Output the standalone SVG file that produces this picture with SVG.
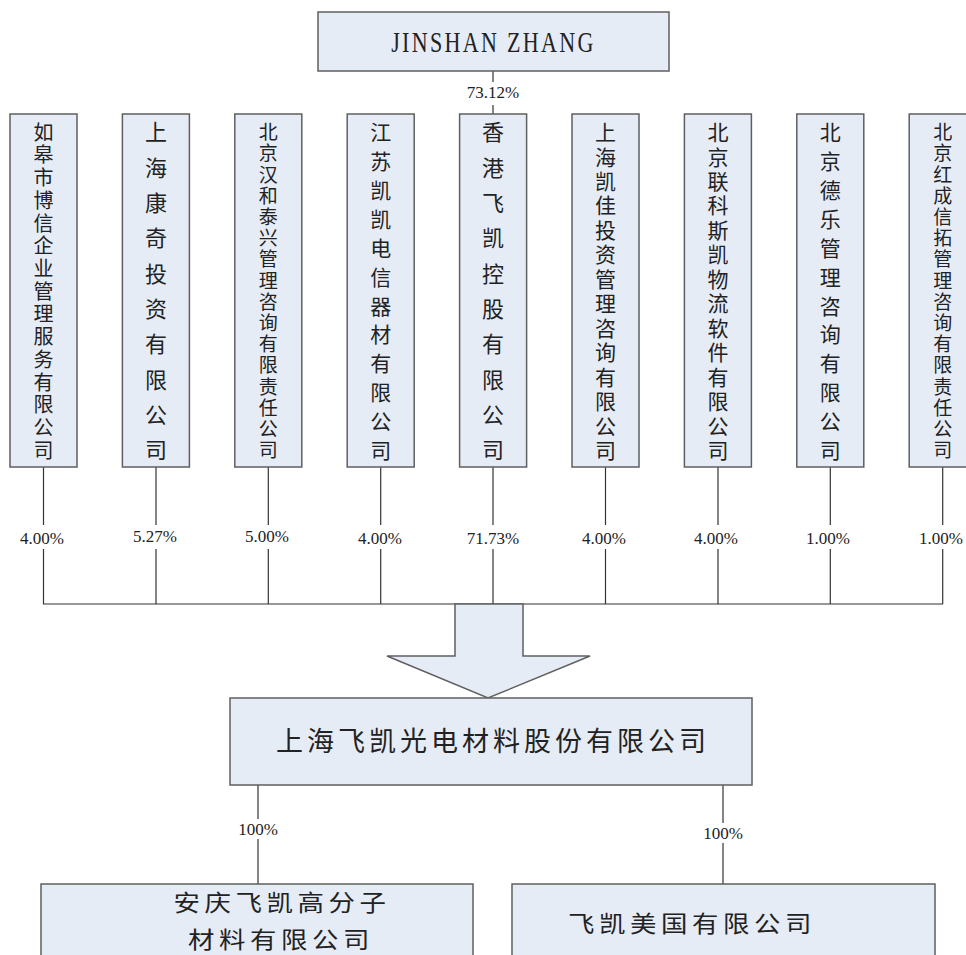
<svg xmlns="http://www.w3.org/2000/svg" width="966" height="955" viewBox="0 0 966 955">
<style>
.box{fill:#E6ECF6;stroke:#5f5f5f;stroke-width:1.5}
.ln{stroke:#333;stroke-width:1.2;fill:none}
.cjk{font-family:"Noto Sans CJK SC","Noto Sans CJK TC",sans-serif;fill:#222;text-anchor:middle}
.pct{font-family:"Liberation Serif",serif;font-size:17px;fill:#222;text-anchor:middle}
.bg{fill:#fff}
</style>
<rect width="966" height="955" fill="#fff"/>
<g id="connectors">
  <line class="ln" x1="493" y1="71" x2="493" y2="114"/>
  <line class="ln" x1="43.5" y1="467" x2="43.5" y2="604"/>
  <line class="ln" x1="156" y1="467" x2="156" y2="604"/>
  <line class="ln" x1="268.3" y1="467" x2="268.3" y2="604"/>
  <line class="ln" x1="380.7" y1="467" x2="380.7" y2="604"/>
  <line class="ln" x1="493" y1="467" x2="493" y2="604"/>
  <line class="ln" x1="605.5" y1="467" x2="605.5" y2="604"/>
  <line class="ln" x1="718" y1="467" x2="718" y2="604"/>
  <line class="ln" x1="830.3" y1="467" x2="830.3" y2="604"/>
  <line class="ln" x1="942.7" y1="467" x2="942.7" y2="604"/>
  <line class="ln" x1="43" y1="604" x2="943" y2="604"/>
  <line class="ln" x1="258" y1="785" x2="258" y2="884"/>
  <line class="ln" x1="723" y1="785" x2="723" y2="884"/>
  <polygon id="arrow" class="box" points="455,604 523,604 523,656 590,656 488,698 387,656 455,656"/>
</g>
<g id="labels">
  <rect class="bg" x="470" y="82" width="46" height="23"/><text class="pct" x="493" y="98">73.12%</text>
  <rect class="bg" x="18" y="525" width="50" height="24"/><text class="pct" x="42" y="544">4.00%</text>
  <rect class="bg" x="130" y="525" width="50" height="24"/><text class="pct" x="155" y="542">5.27%</text>
  <rect class="bg" x="243" y="525" width="50" height="24"/><text class="pct" x="267" y="542">5.00%</text>
  <rect class="bg" x="355" y="525" width="50" height="24"/><text class="pct" x="380" y="544">4.00%</text>
  <rect class="bg" x="465" y="525" width="56" height="24"/><text class="pct" x="493" y="544">71.73%</text>
  <rect class="bg" x="580" y="525" width="50" height="24"/><text class="pct" x="604" y="544">4.00%</text>
  <rect class="bg" x="692" y="525" width="50" height="24"/><text class="pct" x="716" y="544">4.00%</text>
  <rect class="bg" x="804" y="525" width="50" height="24"/><text class="pct" x="828" y="544">1.00%</text>
  <rect class="bg" x="916" y="525" width="50" height="24"/><text class="pct" x="941" y="544">1.00%</text>
  <rect class="bg" x="236" y="819" width="44" height="20"/><text class="pct" x="258" y="835">100%</text>
  <rect class="bg" x="701" y="823" width="44" height="20"/><text class="pct" x="723" y="839">100%</text>
</g>
<g id="jinshan">
  <rect class="box" x="318" y="12" width="351" height="59"/>
  <text transform="translate(493.5,52) scale(0.92,1.25)" x="0" y="0" font-family="Liberation Serif, serif" font-size="24" fill="#222" text-anchor="middle" letter-spacing="2.5">JINSHAN ZHANG</text>
</g>
<g id="n1">
  <rect class="box" x="10" y="114" width="67" height="353"/>
  <text class="cjk" font-size="20" x="43.5 43.5 43.5 43.5 43.5 43.5 43.5 43.5 43.5 43.5 43.5 43.5 43.5 43.5 43.5" y="139.6 162.3 185 207.7 230.5 253.2 275.9 298.6 321.3 344 366.7 389.5 412.2 434.9 457.6">如皋市博信企业管理服务有限公司</text>
</g>
<g id="n2">
  <rect class="box" x="122.4" y="114" width="67" height="353"/>
  <text class="cjk" font-size="22" x="156 156 156 156 156 156 156 156 156 156" y="140.4 175.7 211.1 246.4 281.7 317.1 352.4 387.7 423.1 458.4">上海康奇投资有限公司</text>
</g>
<g id="n3">
  <rect class="box" x="234.8" y="114" width="67" height="353"/>
  <text class="cjk" font-size="19" x="268.3 268.3 268.3 268.3 268.3 268.3 268.3 268.3 268.3 268.3 268.3 268.3 268.3 268.3 268.3 268.3" y="139.2 160.4 181.6 202.8 224 245.2 266.4 287.6 308.8 330 351.2 372.4 393.6 414.8 436 457.2">北京汉和泰兴管理咨询有限责任公司</text>
</g>
<g id="n4">
  <rect class="box" x="347.2" y="114" width="67" height="353"/>
  <text class="cjk" font-size="21" x="380.7 380.7 380.7 380.7 380.7 380.7 380.7 380.7 380.7 380.7 380.7 380.7" y="140 168.9 197.8 226.7 255.6 284.5 313.5 342.4 371.3 400.2 429.1 458">江苏凯凯电信器材有限公司</text>
</g>
<g id="n5">
  <rect class="box" x="459.6" y="114" width="67" height="353"/>
  <text class="cjk" font-size="22" x="493 493 493 493 493 493 493 493 493 493" y="140.4 175.7 211.1 246.4 281.7 317.1 352.4 387.7 423.1 458.4">香港飞凯控股有限公司</text>
</g>
<g id="n6">
  <rect class="box" x="572" y="114" width="67" height="353"/>
  <text class="cjk" font-size="21" x="605.5 605.5 605.5 605.5 605.5 605.5 605.5 605.5 605.5 605.5 605.5 605.5 605.5 605.5" y="140 164.5 188.9 213.4 237.8 262.3 286.8 311.2 335.7 360.2 384.6 409.1 433.5 458">上海凯佳投资管理咨询有限公司</text>
</g>
<g id="n7">
  <rect class="box" x="684.4" y="114" width="67" height="353"/>
  <text class="cjk" font-size="21" x="718 718 718 718 718 718 718 718 718 718 718 718 718 718" y="140 164.5 188.9 213.4 237.8 262.3 286.8 311.2 335.7 360.2 384.6 409.1 433.5 458">北京联科斯凯物流软件有限公司</text>
</g>
<g id="n8">
  <rect class="box" x="796.8" y="114" width="67" height="353"/>
  <text class="cjk" font-size="21" x="830.3 830.3 830.3 830.3 830.3 830.3 830.3 830.3 830.3 830.3 830.3 830.3" y="140 168.9 197.8 226.7 255.6 284.5 313.5 342.4 371.3 400.2 429.1 458">北京德乐管理咨询有限公司</text>
</g>
<g id="n9">
  <rect class="box" x="909.2" y="114" width="67" height="353"/>
  <text class="cjk" font-size="19" x="942.7 942.7 942.7 942.7 942.7 942.7 942.7 942.7 942.7 942.7 942.7 942.7 942.7 942.7 942.7 942.7" y="139.2 160.4 181.6 202.8 224 245.2 266.4 287.6 308.8 330 351.2 372.4 393.6 414.8 436 457.2">北京红成信拓管理咨询有限责任公司</text>
</g>
<g id="main">
  <rect class="box" x="230" y="698" width="522" height="87"/>
  <text class="cjk" font-size="27" letter-spacing="4" x="493" y="751">上海飞凯光电材料股份有限公司</text>
</g>
<g id="anqing">
  <rect class="box" x="41" y="884" width="432" height="80"/>
  <text class="cjk" font-size="23" letter-spacing="4" transform="translate(282,911) scale(1.15,1)" x="0" y="0">安庆飞凯高分子</text>
  <text class="cjk" font-size="23" letter-spacing="4" transform="translate(281,948) scale(1.15,1)" x="0" y="0">材料有限公司</text>
</g>
<g id="usa">
  <rect class="box" x="512" y="884" width="423" height="80"/>
  <text class="cjk" font-size="23" letter-spacing="4" transform="translate(692,932) scale(1.15,1)" x="0" y="0">飞凯美国有限公司</text>
</g>
</svg>
